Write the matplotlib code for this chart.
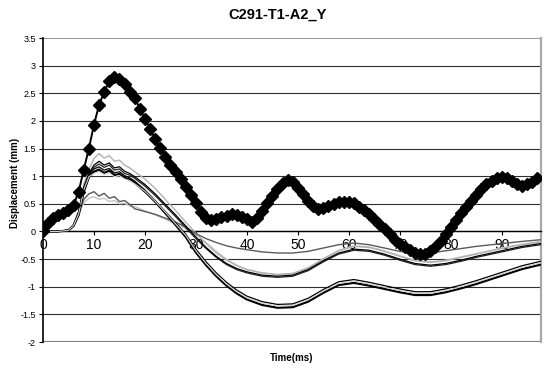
"""Displacement vs time, C291-T1-A2_Y (Excel-style line chart)."""
import numpy as np
import matplotlib
matplotlib.use("Agg")
import matplotlib.pyplot as plt

plt.rcParams["font.family"] = ["Liberation Sans", "DejaVu Sans"]

# measured series (thick, diamond markers), one value per ms
t_meas = list(range(0, 98))
y_meas = [0.00, 0.15, 0.24, 0.30, 0.34, 0.38, 0.48, 0.72, 1.12, 1.50,
          1.93, 2.29, 2.52, 2.72, 2.80, 2.76, 2.66, 2.53, 2.42, 2.22,
          2.04, 1.86, 1.67, 1.51, 1.35, 1.20, 1.07, 0.95, 0.81, 0.66,
          0.51, 0.36, 0.25, 0.21, 0.23, 0.26, 0.28, 0.31, 0.30, 0.27,
          0.22, 0.18, 0.24, 0.37, 0.51, 0.65, 0.77, 0.88, 0.93, 0.89,
          0.79, 0.67, 0.55, 0.46, 0.40, 0.42, 0.46, 0.50, 0.53, 0.54,
          0.54, 0.51, 0.45, 0.38, 0.32, 0.23, 0.14, 0.04, -0.05, -0.16,
          -0.23, -0.29, -0.34, -0.39, -0.41, -0.41, -0.36, -0.28, -0.17, -0.04,
          0.08, 0.20, 0.33, 0.45, 0.56, 0.66, 0.77, 0.85, 0.92, 0.96,
          0.98, 0.96, 0.91, 0.86, 0.83, 0.85, 0.90, 0.97]

# simulated traces (thin lines)
t_sim = [0, 3, 5, 6, 7, 8, 9, 10, 11, 12, 13, 14, 15, 16, 17, 18, 20, 22, 24, 26,
         28, 30, 32, 34, 36, 38, 40, 43, 46, 49, 52, 55, 58, 61, 64, 67, 70, 73, 76, 79,
         82, 85, 88, 91, 94, 97.6]
sim_a1 = [0, 0, 0.02, 0.10, 0.30, 0.72, 0.98, 1.08, 1.12, 1.06, 1.10, 1.02, 1.04, 0.97, 0.94, 0.88, 0.72, 0.54, 0.33, 0.12,
          -0.10, -0.38, -0.61, -0.81, -0.98, -1.12, -1.23, -1.33, -1.38, -1.37, -1.27, -1.11, -0.97, -0.93, -0.98, -1.04, -1.10, -1.15, -1.15, -1.10,
          -1.03, -0.95, -0.86, -0.77, -0.68, -0.60]
sim_a2 = [0, 0, 0.03, 0.12, 0.35, 0.78, 1.02, 1.13, 1.17, 1.11, 1.14, 1.06, 1.08, 1.01, 0.97, 0.91, 0.75, 0.56, 0.36, 0.16,
          -0.05, -0.32, -0.55, -0.75, -0.92, -1.06, -1.17, -1.27, -1.32, -1.31, -1.21, -1.05, -0.91, -0.87, -0.92, -0.98, -1.04, -1.09, -1.09, -1.04,
          -0.97, -0.89, -0.80, -0.71, -0.62, -0.54]
sim_a3 = [0, 0, 0.02, 0.11, 0.32, 0.75, 0.99, 1.05, 1.08, 1.03, 1.06, 0.99, 1.01, 0.95, 0.92, 0.86, 0.73, 0.55, 0.35, 0.14,
          -0.07, -0.35, -0.58, -0.78, -0.95, -1.09, -1.20, -1.30, -1.35, -1.34, -1.24, -1.08, -0.94, -0.90, -0.95, -1.01, -1.07, -1.12, -1.12, -1.07,
          -1.00, -0.92, -0.83, -0.74, -0.65, -0.57]
sim_b1 = [0, 0, 0.02, 0.12, 0.35, 0.80, 1.05, 1.20, 1.27, 1.20, 1.24, 1.15, 1.17, 1.09, 1.05, 0.99, 0.85, 0.68, 0.49, 0.30,
          0.10, -0.10, -0.29, -0.45, -0.58, -0.67, -0.73, -0.79, -0.81, -0.79, -0.69, -0.53, -0.39, -0.32, -0.34, -0.41, -0.50, -0.58, -0.61, -0.58,
          -0.52, -0.45, -0.39, -0.33, -0.27, -0.22]
sim_b2 = [0, 0, 0.02, 0.12, 0.34, 0.79, 1.03, 1.16, 1.22, 1.16, 1.20, 1.11, 1.13, 1.05, 1.02, 0.96, 0.82, 0.65, 0.46, 0.27,
          0.07, -0.13, -0.31, -0.47, -0.60, -0.69, -0.75, -0.81, -0.83, -0.81, -0.71, -0.55, -0.41, -0.34, -0.36, -0.43, -0.52, -0.60, -0.63, -0.60,
          -0.54, -0.47, -0.41, -0.35, -0.29, -0.24]
sim_b3 = [0, 0, 0.02, 0.13, 0.38, 0.85, 1.12, 1.32, 1.41, 1.33, 1.37, 1.27, 1.29, 1.20, 1.15, 1.08, 0.95, 0.78, 0.58, 0.38,
          0.17, -0.03, -0.22, -0.39, -0.52, -0.62, -0.69, -0.75, -0.78, -0.76, -0.66, -0.50, -0.35, -0.27, -0.29, -0.36, -0.45, -0.53, -0.56, -0.53,
          -0.47, -0.41, -0.35, -0.29, -0.24, -0.19]
sim_b4 = [0, 0, 0.02, 0.10, 0.30, 0.52, 0.60, 0.63, 0.58, 0.60, 0.54, 0.56, 0.50, 0.51, 0.46, 0.45, 0.37, 0.30, 0.22, 0.14,
          0.05, -0.05, -0.20, -0.36, -0.50, -0.61, -0.69, -0.75, -0.78, -0.76, -0.66, -0.49, -0.34, -0.26, -0.28, -0.35, -0.44, -0.52, -0.55, -0.52,
          -0.46, -0.40, -0.34, -0.28, -0.23, -0.18]
sim_c = [0, 0, 0.02, 0.10, 0.33, 0.58, 0.68, 0.72, 0.64, 0.69, 0.60, 0.63, 0.54, 0.56, 0.49, 0.41, 0.36, 0.31, 0.24, 0.17,
         0.08, -0.04, -0.13, -0.20, -0.26, -0.30, -0.33, -0.37, -0.39, -0.39, -0.36, -0.30, -0.24, -0.21, -0.24, -0.30, -0.36, -0.40, -0.39, -0.35,
         -0.31, -0.27, -0.24, -0.21, -0.18, -0.15]

y_ticks = np.arange(-2, 3.51, 0.5)
x_ticks = list(range(0, 100, 10))

fig = plt.figure(figsize=(5.45, 3.68), dpi=100)
ax = fig.add_axes([43 / 545, 1 - 342 / 368, (541 - 43) / 545, (342 - 38) / 368])

# grid lines (Excel major gridlines)
for yv in y_ticks[1:-1]:
    ax.axhline(yv, color="#2e2e2e", lw=0.8, zorder=1)
ax.axhline(3.5, color="#808080", lw=1.2, zorder=1)
ax.axhline(-2, color="#808080", lw=1.6, zorder=1)

sims = [(sim_b4, "#c4c4c4", 1.0), (sim_b3, "#b0b0b0", 1.0), (sim_c, "#5a5a5a", 1.0),
        (sim_b2, "#222222", 0.9), (sim_b1, "#000000", 0.9),
        (sim_a1, "#000000", 1.6), (sim_a2, "#000000", 0.9), (sim_a3, "#d0d0d0", 0.8)]
for ys, c, lw in sims:
    ax.plot(t_sim, ys, color=c, lw=lw, zorder=3)

ax.plot(t_meas, y_meas, color="black", lw=1.4, marker="D", ms=5.8,
        mfc="black", mec="black", zorder=4)

ax.set_xlim(0, 97.7)
ax.set_ylim(-2, 3.5)
ax.set_yticks(y_ticks)
ax.set_yticklabels([f"{v:g}" for v in y_ticks], fontsize=6.5)
ax.set_xticks(x_ticks)
ax.set_xticklabels([str(v) for v in x_ticks], fontsize=6.5)

ax.spines["bottom"].set_position(("data", 0))
ax.spines["bottom"].set_linewidth(1.0)
ax.spines["left"].set_linewidth(1.2)
ax.spines["top"].set_visible(False)
ax.spines["right"].set_color("#a8a8a8")
ax.spines["right"].set_linewidth(1.6)
ax.tick_params(axis="both", direction="out", length=3, width=0.8, pad=2)

fig.text(0.51, 1 - 15 / 368, "C291-T1-A2_Y", ha="center", va="center",
         fontsize=10.5, fontweight="bold")
fig.text(15 / 545, 1 - 183 / 368, "Displacement (mm)", ha="center", va="center",
         rotation=90, fontsize=7, fontweight="bold")
fig.text(292 / 545, 1 - 358 / 368, "Time(ms)", ha="center", va="center",
         fontsize=7, fontweight="bold")

fig.savefig("out.png", dpi=100)
